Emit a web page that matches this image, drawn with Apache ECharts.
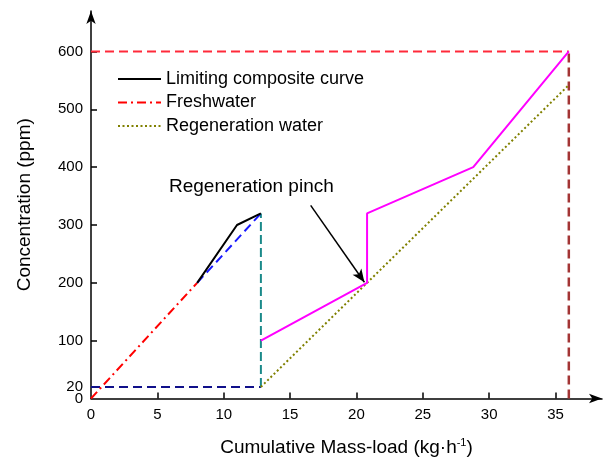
<!DOCTYPE html>
<html style="height: 100%">
<head>
  <meta charset="utf-8">
</head>
<body style="height: 100%; margin: 0; background: #fff">
  <div id="container" style="width: 606px; height: 462px"></div>
  <script type="text/javascript" src="https://fastly.jsdelivr.net/npm/echarts@6.0.0/dist/echarts.min.js"></script>
  <script type="text/javascript">
// tick labels
const xTicks = [0, 5, 10, 15, 20, 25, 30, 35];
const yTicks = [0, 100, 200, 300, 400, 500, 600];
const yExtraTicks = [20];

// curves (mass-load, concentration)
const limitingX = [8, 11, 12.8];
const limitingY = [200, 300, 320];
const freshX = [0, 8];
const freshY = [0, 200];
const regenX = [12.8, 36];
const regenY = [20, 542];
const freshUpperX = [8, 12.8];
const freshUpperY = [200, 320];
const baseX = [0, 12.8];
const baseY = [20, 20];
const dropX = [12.8, 12.8];
const dropY = [20, 320];
const shiftedX = [12.8, 20.8, 20.8, 28.8, 36];
const shiftedY = [100, 200, 320, 400, 600];
const capX = [0, 36];
const capY = [600, 600];
const endX = [36, 36];
const endY = [0, 600];
const pinchFrom = [16.55, 334];
const pinchTo = [20.6, 201];

function pts(xs, ys) {
  return xs.map(function (x, i) { return [x, ys[i]]; });
}

var dom = document.getElementById('container');
var myChart = echarts.init(dom, null, { renderer: 'canvas' });
var font = "'Liberation Sans', Arial, sans-serif";

function line(name, xs, ys, color, type, width, z) {
  return {
    name: name,
    type: 'line',
    data: pts(xs, ys),
    symbol: 'none',
    silent: true,
    z: z || 2,
    lineStyle: { color: color, type: type, width: width },
    itemStyle: { color: color }
  };
}

var labelStyle = { margin: 8, fontFamily: font, fontSize: 15, color: '#000', showMinLabel: true, showMaxLabel: true };

var option = {
  animation: false,
  backgroundColor: '#fff',
  grid: { left: 91, right: 4, top: 11, bottom: 62, containLabel: false },
  legend: {
    data: ['Limiting composite curve', 'Freshwater', 'Regeneration water'],
    orient: 'vertical',
    left: 112,
    top: 65,
    itemWidth: 43,
    itemHeight: 14,
    itemGap: 5.5,
    itemStyle: { opacity: 0 },
    textStyle: { fontFamily: font, fontSize: 18, color: '#000', lineHeight: 18 }
  },
  xAxis: {
    type: 'value',
    min: 0,
    max: 38.5,
    name: '{a|Cumulative Mass-load (kg·h}{b|-1}{a|)}',
    nameLocation: 'middle',
    nameGap: 39,
    nameTextStyle: {
      rich: {
        a: { fontFamily: font, fontSize: 19, color: '#000' },
        b: { fontFamily: font, fontSize: 11, color: '#000', padding: [0, 0, 9, 0] }
      }
    },
    splitLine: { show: false },
    axisLine: { lineStyle: { color: '#000', width: 1.5 }, symbol: ['none', 'arrow'], symbolSize: [7, 13] },
    axisTick: { inside: true, length: 6, lineStyle: { color: '#000', width: 1.5 }, customValues: xTicks.slice(1) },
    axisLabel: Object.assign({}, labelStyle, { customValues: xTicks, margin: 9 })
  },
  yAxis: [{
    type: 'value',
    min: 0,
    max: 670,
    name: 'Concentration (ppm)',
    nameLocation: 'middle',
    nameGap: 57,
    nameTextStyle: { fontFamily: font, fontSize: 19, color: '#000' },
    splitLine: { show: false },
    axisLine: { lineStyle: { color: '#000', width: 1.5 }, symbol: ['none', 'arrow'], symbolSize: [7, 13] },
    axisTick: { inside: true, length: 6, lineStyle: { color: '#000', width: 1.5 }, customValues: yTicks.slice(1) },
    axisLabel: Object.assign({}, labelStyle, { customValues: yTicks })
  }, {
    type: 'value',
    position: 'left',
    min: 0,
    max: 670,
    splitLine: { show: false },
    axisLine: { show: false },
    axisTick: { show: false },
    axisLabel: Object.assign({}, labelStyle, { customValues: yExtraTicks })
  }],
  graphic: [{
    type: 'text',
    left: 169,
    top: 177,
    style: { text: 'Regeneration pinch', font: '19px ' + font, fill: '#000' }
  }],
  series: [
    line('cap', capX, capY, '#ff2a3a', [9, 5], 2, 1),
    line('end', endX, endY, '#a33535', [9, 5], 2.5, 1),
    line('base', baseX, baseY, '#10108a', [9, 5], 2, 1),
    line('drop', dropX, dropY, '#1a8a8a', [9, 4], 2, 1),
    line('Freshwater', freshX, freshY, '#ff0000', [9, 4, 2, 4], 2, 3),
    line('upper', freshUpperX, freshUpperY, '#1a1aff', [9, 5], 2, 3),
    line('Limiting composite curve', limitingX, limitingY, '#000000', 'solid', 2, 4),
    line('Regeneration water', regenX, regenY, '#808000', [2, 2.5], 2, 3),
    Object.assign(line('shifted', shiftedX, shiftedY, '#ff00ff', 'solid', 2, 4), {
      markLine: {
        silent: true,
        symbol: ['none', 'arrow'],
        symbolSize: [8, 13],
        label: { show: false },
        lineStyle: { color: '#000', type: 'solid', width: 1.5 },
        data: [[{ coord: pinchFrom }, { coord: pinchTo }]]
      }
    })
  ]
};

myChart.setOption(option);
window.addEventListener('resize', myChart.resize);
  </script>
</body>
</html>
